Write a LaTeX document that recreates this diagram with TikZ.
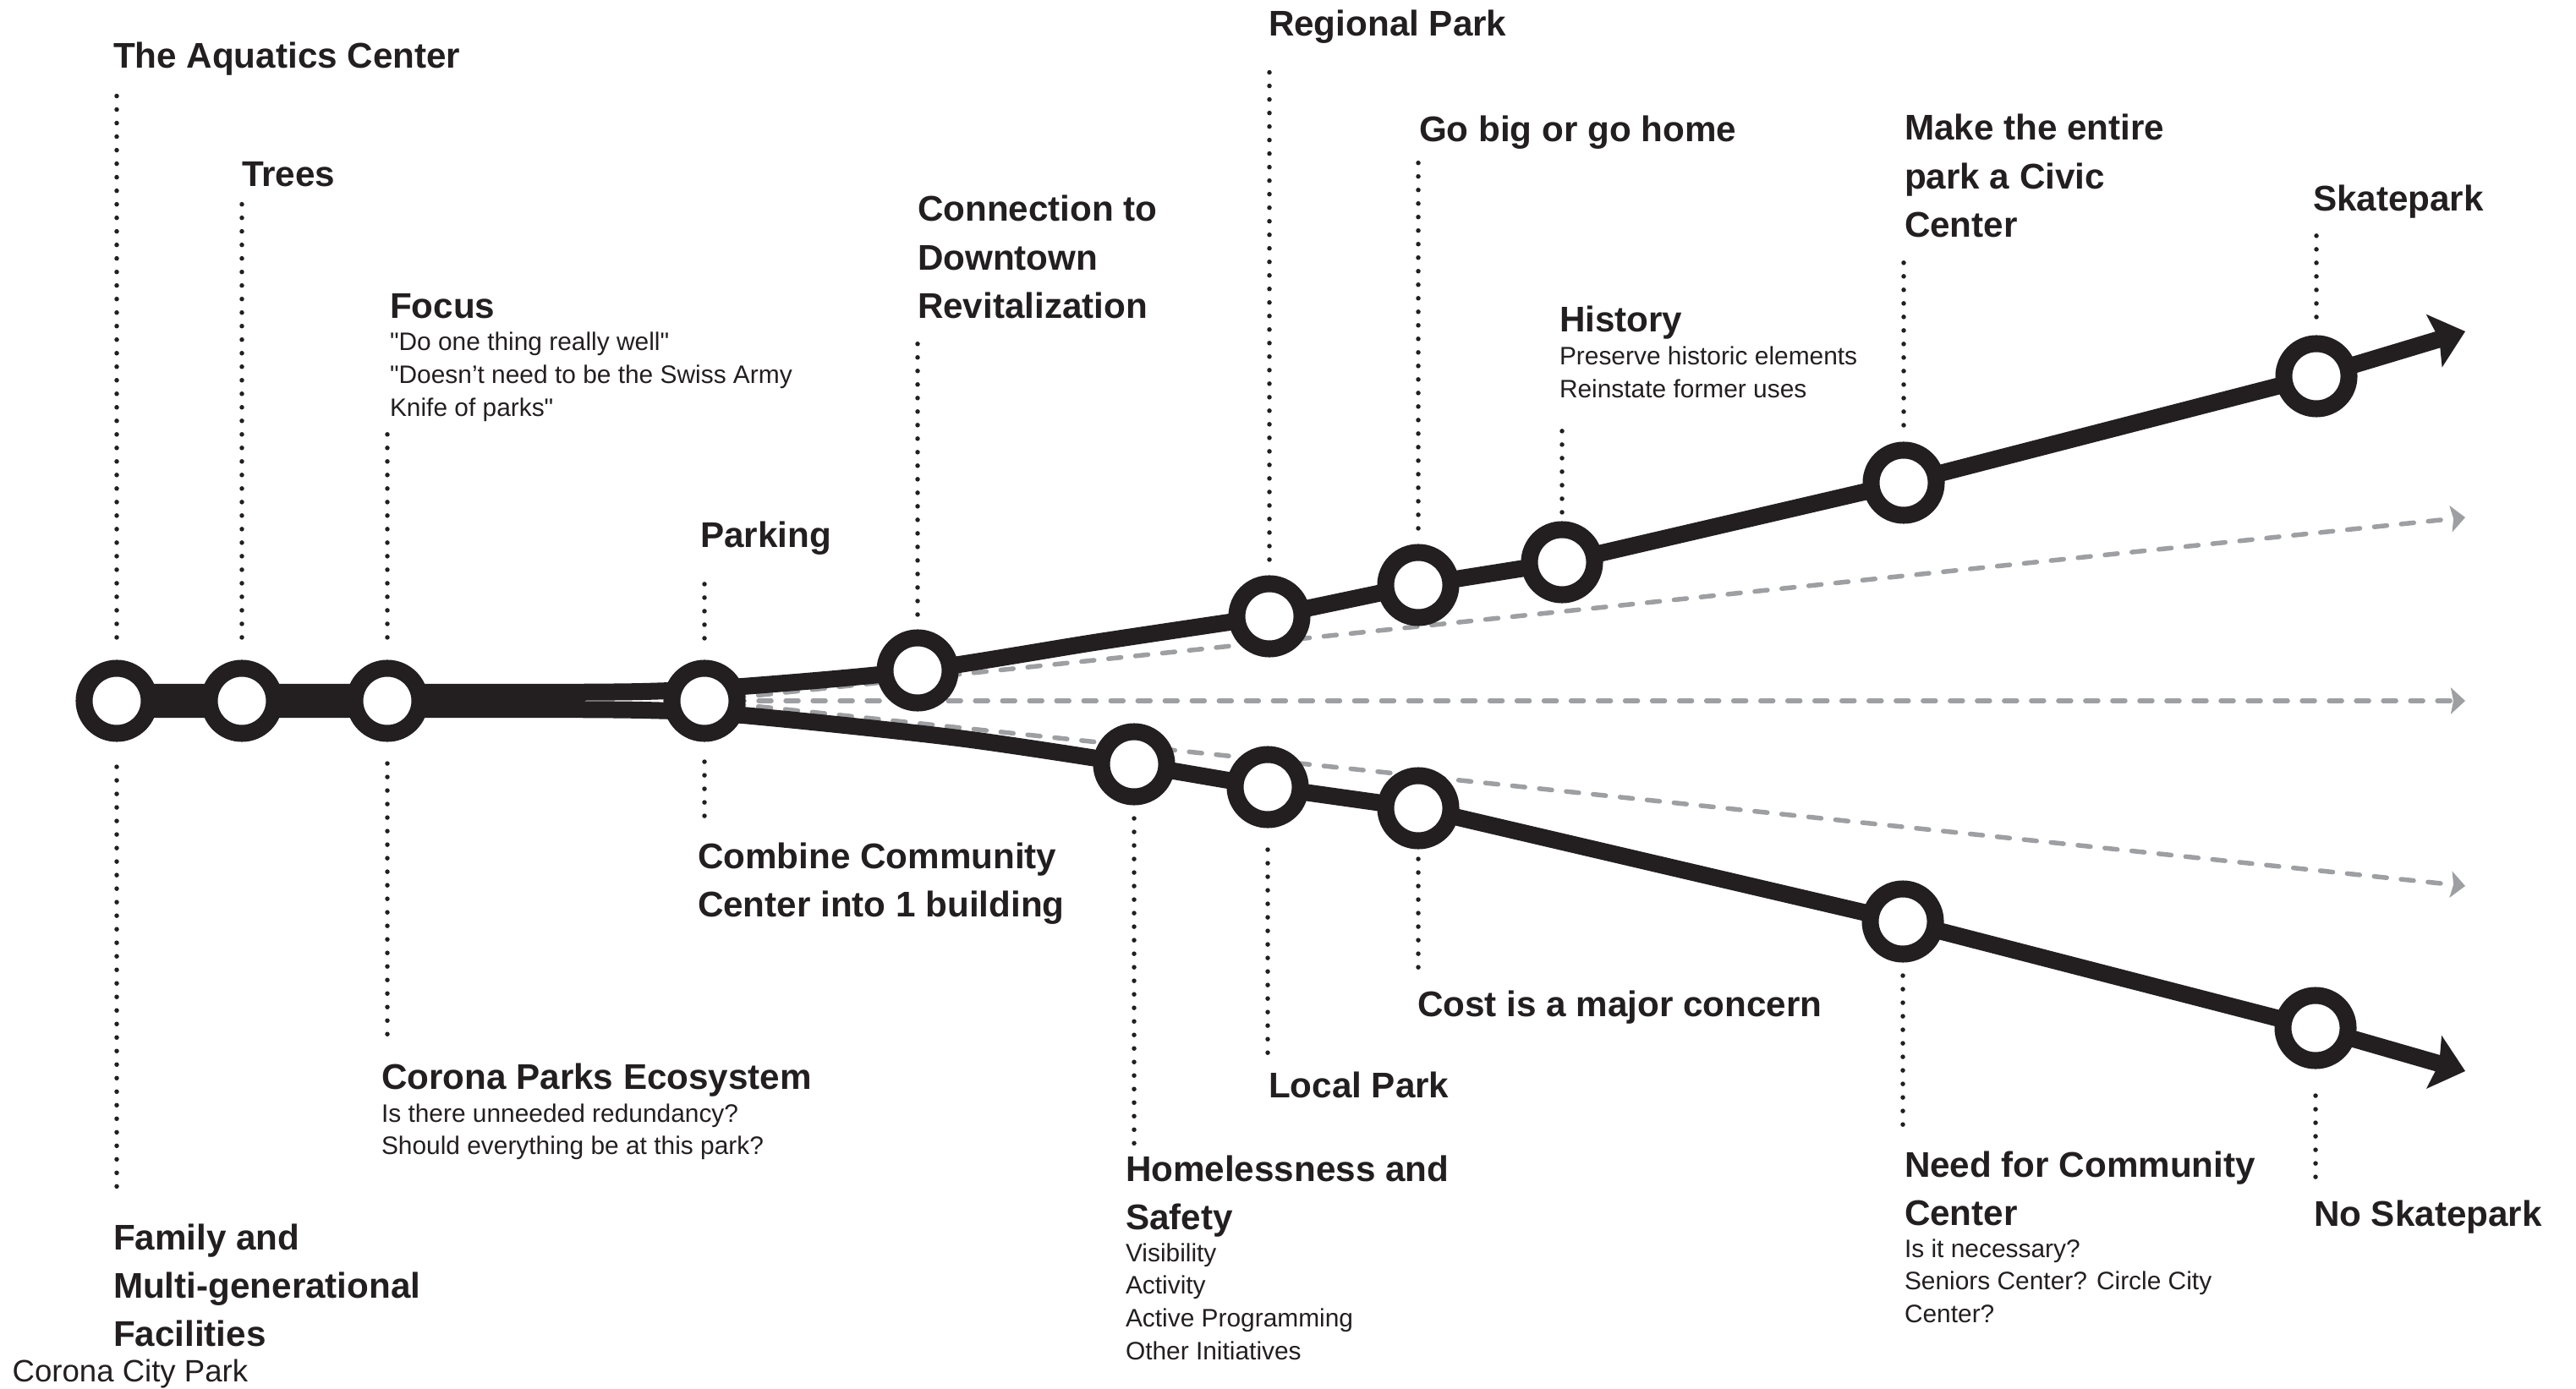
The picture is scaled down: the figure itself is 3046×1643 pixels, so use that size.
\documentclass[tikz,border=0pt]{standalone}
\usepackage{fontspec}
\setmainfont{Liberation Sans}
\usetikzlibrary{arrows.meta}
\definecolor{ink}{HTML}{231F20}
\definecolor{ghost}{HTML}{9D9FA2}
\pgfdeclarelayer{dashlayer}
\pgfdeclarelayer{linelayer}
\pgfsetlayers{dashlayer,linelayer,main}
\newcommand\hdfont{\fontsize{12}{16.3}\selectfont\bfseries}
\newcommand\sbfont{\fontsize{8.5}{11}\selectfont}
\newcommand\ccfont{\fontsize{10.4}{12.5}\selectfont}
\newcommand\stk[1]{\vtop{\halign{##\hfil\cr#1\crcr}}}
\newcommand\dotv[3]{\draw[dotline] ([yshift=#2cm]#1.center) -- ([yshift=#3cm]#1.center);}
\newcommand\dq{\textquotedbl}
\begin{document}
\begin{tikzpicture}[x=0.01cm,y=-0.01cm,
  stop/.style={circle, draw=ink, line width=0.2cm, fill=white, minimum size=0.77cm, inner sep=0pt, outer sep=0pt},
  branch/.style={draw=ink, line width=0.2cm, line join=round, -{Stealth[length=0.38cm,width=0.64cm,inset=0.06cm]}},
  ghostline/.style={draw=ghost, line width=0.055cm, line cap=round, dash pattern=on 0.15cm off 0.17cm, -{Stealth[length=0.17cm,width=0.31cm,inset=0.03cm]}},
  dotline/.style={draw=ink, line width=0.055cm, line cap=round, dash pattern=on 0pt off 0.16cm},
  head/.style={anchor=base west, inner sep=0pt, outer sep=0pt, font=\hdfont, text=ink},
  sub/.style={anchor=base west, inner sep=0pt, outer sep=0pt, font=\sbfont, text=ink}]
\useasboundingbox (0,0) rectangle (3046,1643);

% stops
\node[stop] (n1) at (138,829) {};
\node[stop] (n2) at (286,829) {};
\node[stop] (n3) at (458,829) {};
\node[stop] (n4) at (833,829) {};
\node[stop] (u1) at (1085,793) {};
\node[stop] (u2) at (1501,729) {};
\node[stop] (u3) at (1677,692) {};
\node[stop] (u4) at (1847,665) {};
\node[stop] (u5) at (2251,571) {};
\node[stop] (u6) at (2739,445) {};
\node[stop] (l1) at (1341,904) {};
\node[stop] (l2) at (1499,931) {};
\node[stop] (l3) at (1677,956) {};
\node[stop] (l4) at (2250,1090) {};
\node[stop] (l5) at (2738,1216) {};
\coordinate (uend) at (2915,392);
\coordinate (lend) at (2915,1267);
\coordinate (d1) at (2915,612);
\coordinate (d2) at (2915,829);
\coordinate (d3) at (2915,1048);

% branches
\begin{pgfonlayer}{linelayer}
\draw[branch] ([yshift=0.1cm]n1.center) -- plot[smooth, tension=0.5] coordinates
  {(600,819) (760,818) (878,812) (u1.center) (1300,759) (u2.center)}
  -- (u3.center) -- (u4.center) -- (u5.center) -- (u6.center) -- (uend);
\draw[branch] ([yshift=-0.1cm]n1.center) -- plot[smooth, tension=0.5] coordinates
  {(600,839) (760,840) (878,846) (1133,873) (l1.center)}
  -- (l2.center) -- (l3.center) -- (l4.center) -- (l5.center) -- (lend);
\end{pgfonlayer}
\begin{pgfonlayer}{dashlayer}
\draw[ghostline] (n4.center) -- (d1);
\draw[ghostline] (n4.center) -- (d2);
\draw[ghostline] (n4.center) -- (d3);
\end{pgfonlayer}

% dotted leaders
\dotv{n1}{0.75}{7.29}
\dotv{n1}{-0.78}{-5.82}
\dotv{n2}{0.75}{6.00}
\dotv{n3}{0.75}{3.22}
\dotv{n3}{-0.74}{-3.96}
\dotv{n4}{0.74}{1.49}
\dotv{n4}{-0.72}{-1.50}
\dotv{u1}{0.66}{4.01}
\dotv{u2}{0.67}{6.57}
\dotv{u3}{0.67}{5.15}
\dotv{u4}{0.59}{1.65}
\dotv{u5}{0.68}{2.73}
\dotv{u6}{0.70}{1.78}
\dotv{l1}{-0.64}{-4.52}
\dotv{l2}{-0.74}{-3.24}
\dotv{l3}{-0.60}{-2.00}
\dotv{l4}{-0.64}{-2.53}
\dotv{l5}{-0.80}{-1.84}

% labels above
\node[head] (aquatics) at (134,81) {The Aquatics Center};
\node[head] (trees) at (286,221) {Trees};
\node[head] (focus) at (461,377) {Focus};
\node[sub] (focussub) at (461,415) {\stk{\dq Do one thing really well\dq\cr \dq Doesn’t need to be the Swiss Army\cr Knife of parks\dq}};
\node[head] (parking) at (828,647) {Parking};
\node[head] (connection) at (1085,262) {\stk{Connection to\cr Downtown\cr Revitalization}};
\node[head] (regional) at (1500,43) {Regional Park};
\node[head] (gobig) at (1678,168) {Go big or go home};
\node[head] (history) at (1844,393) {History};
\node[sub] (historysub) at (1844,432) {\stk{Preserve historic elements\cr Reinstate former uses}};
\node[head] (civic) at (2252,166) {\stk{Make the entire\cr park a Civic\cr Center}};
\node[head] (skate) at (2735,250) {Skatepark};

% labels below
\node[head] (family) at (134,1478) {\stk{Family and\cr Multi-generational\cr Facilities}};
\node[anchor=base west, inner sep=0pt, font=\ccfont, text=ink] (coronacity) at (14,1634) {Corona City Park};
\node[head] (ecosystem) at (451,1288) {Corona Parks Ecosystem};
\node[sub] (ecosub) at (451,1327) {\stk{Is there unneeded redundancy?\cr Should everything be at this park?}};
\node[head] (combine) at (825,1027) {\stk{Combine Community\cr Center into 1 building}};
\node[head] (homeless) at (1331,1397) {\stk{Homelessness and\cr Safety}};
\node[sub] (homesub) at (1331,1492) {\stk{Visibility\cr Activity\cr Active Programming\cr Other Initiatives}};
\node[head] (localpark) at (1500,1298) {Local Park};
\node[head] (cost) at (1676,1202) {Cost is a major concern};
\node[head] (needcc) at (2252,1392) {\stk{Need for Community\cr Center}};
\node[sub] (needsub) at (2252,1487) {\stk{Is it necessary?\cr Seniors Center? Circle City\cr Center?}};
\node[head] (noskate) at (2736,1450) {No Skatepark};
\end{tikzpicture}
\end{document}
